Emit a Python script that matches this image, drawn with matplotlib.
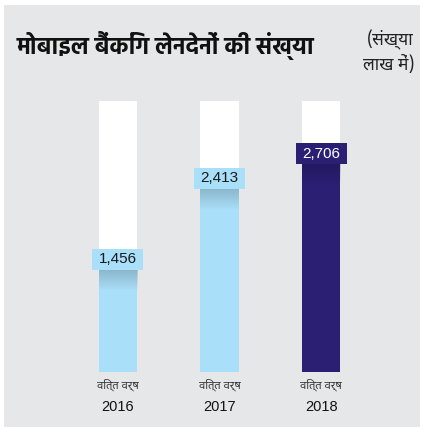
import matplotlib
matplotlib.use("Agg")
import matplotlib.pyplot as plt
import numpy as np
from matplotlib.patches import Rectangle
from matplotlib.transforms import blended_transform_factory

# data
years = ["2016", "2017", "2018"]
fy_label = "वित्त वर्ष"
values = [1456, 2413, 2706]
value_labels = ["1,456", "2,413", "2,706"]
track_max = 3200
title = "मोबाइल बैंकिंग लेनदेनों की संख्या"
unit_note = "(संख्या\nलाख में)"

HINDI = ["Noto Sans Devanagari", "Noto Sans Devanagari UI", "Hind", "DejaVu Sans"]
HINDI_BOLD = ["Hind", "Noto Sans Devanagari UI", "Noto Sans Devanagari", "DejaVu Sans"]
LATIN = ["Liberation Sans", "DejaVu Sans"]

BG = "#e6e7e9"
LIGHT = "#a9dff9"
DARK = "#2b1f74"
bar_colors = [LIGHT, LIGHT, DARK]
text_colors = ["#1a1a1a", "#1a1a1a", "white"]

W, H = 423, 430
fig = plt.figure(figsize=(W / 100, H / 100), dpi=100)
fig.patch.set_facecolor("white")

# grey panel
fig.patches.append(Rectangle((4 / W, 3 / H), 416 / W, 422 / H,
                             transform=fig.transFigure, facecolor=BG,
                             edgecolor="none", zorder=-10))

# axes in pixel layout
left, right, top, bottom = 67, 372, 101, 372
ax = fig.add_axes([left / W, (H - bottom) / H, (right - left) / W, (bottom - top) / H])
ax.set_zorder(1)
ax.axis("off")

x = np.arange(len(years))
bw = 0.38
box_w = 0.5
box_h = 255

# white tracks
ax.bar(x, [track_max] * len(years), width=bw, color="white", zorder=1)
# value bars
ax.bar(x, values, width=bw, color=bar_colors, zorder=2)

# soft shadow under the label box
shade = np.zeros((64, 1, 4))
shade[..., 3] = np.linspace(0.18, 0.0, 64).reshape(-1, 1)
for i, v in enumerate(values):
    top_s = v - box_h
    ax.imshow(shade, extent=(i - bw / 2, i + bw / 2, top_s - 240, top_s),
              aspect="auto", zorder=3, interpolation="bilinear")

# label boxes
for i, (v, lab) in enumerate(zip(values, value_labels)):
    ax.add_patch(Rectangle((i - box_w / 2, v - box_h), box_w, box_h,
                           facecolor=bar_colors[i], edgecolor="none", zorder=4))
    ax.text(i, v - box_h / 2, lab, ha="center", va="center", fontsize=11,
            color=text_colors[i], family=LATIN, zorder=5)

ax.set_xlim(-0.5, len(years) - 0.5)
ax.set_ylim(0, track_max)

# x labels
tr = blended_transform_factory(ax.transData, fig.transFigure)
for i, yr in enumerate(years):
    ax.text(i, (H - 385) / H, fy_label, ha="center", va="center", fontsize=8,
            color="#333333", family=HINDI, transform=tr)
    ax.text(i, (H - 407) / H, yr, ha="center", va="center", fontsize=10.5,
            color="#111111", family=LATIN, transform=tr)

# title and note
fig.text(17 / W, (H - 46) / H, title, ha="left", va="center", fontsize=16.8,
         fontweight="bold", color="#111111", family=HINDI_BOLD)
fig.text(414 / W, (H - 52) / H, unit_note, ha="right", va="center", fontsize=12.5,
         color="#222222", family=HINDI, linespacing=1.35)

fig.savefig("out.png", dpi=100, facecolor=fig.get_facecolor())
